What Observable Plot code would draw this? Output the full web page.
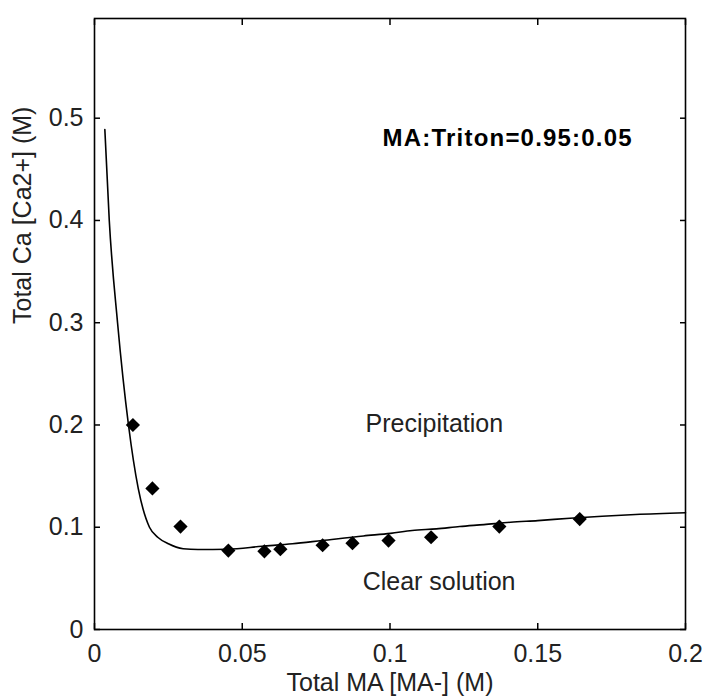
<!DOCTYPE html>
<html>
<head>
<meta charset="utf-8">
<script src="https://cdn.jsdelivr.net/npm/d3@7"></script>
<script src="https://cdn.jsdelivr.net/npm/@observablehq/plot@0.6"></script>
<style>
  html, body { margin: 0; padding: 0; background: #fff; }
  svg { display: block; }
</style>
</head>
<body>
<div id="chart"></div>
<script>
// Model curve
const curveX = [0.0035, 0.005, 0.0078, 0.0115, 0.0148, 0.0186, 0.0215, 0.025, 0.03, 0.035, 0.045, 0.0567, 0.067, 0.077, 0.091, 0.1002, 0.1075, 0.1157, 0.1236, 0.1318, 0.1408, 0.150, 0.1609, 0.1718, 0.1831, 0.2];
const curveY = [0.489, 0.4, 0.3, 0.2, 0.138, 0.1, 0.09, 0.0838, 0.079, 0.0782, 0.0785, 0.0814, 0.0838, 0.087, 0.0915, 0.094, 0.0968, 0.0984, 0.1007, 0.1026, 0.1049, 0.1065, 0.1088, 0.1107, 0.1124, 0.1141];
// Measured points
const pointX = [0.013, 0.0196, 0.0291, 0.0453, 0.0575, 0.0629, 0.0772, 0.0873, 0.0995, 0.1139, 0.137, 0.1642];
const pointY = [0.2, 0.138, 0.1007, 0.0772, 0.0765, 0.0785, 0.0824, 0.0844, 0.087, 0.0902, 0.1007, 0.108];
// Ticks
const xTicks = [0, 0.05, 0.1, 0.15, 0.2];
const xTickLabels = ["0", "0.05", "0.1", "0.15", "0.2"];
const yTicks = [0, 0.1, 0.2, 0.3, 0.4, 0.5];
const yTickLabels = ["0", "0.1", "0.2", "0.3", "0.4", "0.5"];
// Texts
const xLabel = "Total MA [MA-] (M)";
const yLabel = "Total Ca [Ca2+] (M)";
const annotations = [
  {x: 0.0975, y: 0.48, text: "MA:Triton=0.95:0.05", bold: true},
  {x: 0.115, y: 0.201, text: "Precipitation", bold: false},
  {x: 0.1166, y: 0.046, text: "Clear solution", bold: false}
];

const curve = curveX.map((x, i) => ({x, y: curveY[i]}));
const points = pointX.map((x, i) => ({x, y: pointY[i]}));
const font = "'Liberation Sans', Arial, sans-serif";
const xFmt = d => xTickLabels[xTicks.indexOf(d)];
const yFmt = d => yTickLabels[yTicks.indexOf(d)];
const blank = () => "";
const T = 6; // tick length

const chart = Plot.plot({
  width: 705,
  height: 700,
  marginLeft: 94,
  marginRight: 20,
  marginTop: 18,
  marginBottom: 71,
  style: {fontFamily: font, background: "#fff", color: "#000"},
  x: {domain: [0, 0.2]},
  y: {domain: [0, 0.5975]},
  marks: [
    // inward ticks, all four sides (drawn outward then shifted inside)
    Plot.axisX(xTicks, {anchor: "bottom", tickSize: T, dy: -T, tickFormat: blank, stroke: "#000", strokeWidth: 1.5, label: null}),
    Plot.axisX(xTicks, {anchor: "top", tickSize: T, dy: T, tickFormat: blank, stroke: "#000", strokeWidth: 1.5, label: null}),
    Plot.axisY(yTicks, {anchor: "left", tickSize: T, dx: T, tickFormat: blank, stroke: "#000", strokeWidth: 1.5, label: null}),
    Plot.axisY(yTicks, {anchor: "right", tickSize: T, dx: -T, tickFormat: blank, stroke: "#000", strokeWidth: 1.5, label: null}),
    Plot.frame({stroke: "#000", strokeWidth: 1.6}),
    // tick labels
    Plot.axisX(xTicks, {anchor: "bottom", tickSize: 0, tickPadding: 15, tickFormat: xFmt, fontSize: 25, fill: "#222", label: null}),
    Plot.axisY(yTicks, {anchor: "left", tickSize: 0, tickPadding: 11, tickFormat: yFmt, fontSize: 25, fill: "#222", label: null}),
    // axis titles
    Plot.text([xLabel], {frameAnchor: "bottom", dy: 61, fontSize: 25, fill: "#222", text: d => d}),
    Plot.text([yLabel], {frameAnchor: "left", dx: -72, rotate: -90, fontSize: 25, fill: "#222", text: d => d}),
    // model curve
    Plot.line(curve, {x: "x", y: "y", stroke: "#000", strokeWidth: 1.6, curve: "monotone-x"}),
    // data points
    Plot.dot(points, {x: "x", y: "y", symbol: "diamond2", r: 6.4, fill: "#000", stroke: "none"}),
    // annotations
    Plot.text(annotations.filter(d => d.bold), {x: "x", y: "y", text: "text", textAnchor: "start", fontSize: 24, fontWeight: "bold", fill: "#000"}),
    Plot.text(annotations.filter(d => !d.bold), {x: "x", y: "y", text: "text", textAnchor: "middle", fontSize: 25, fill: "#222"})
  ]
});
// widen the bold annotation a little, like the original bitmap font
d3.select(chart).selectAll("text").filter(function() { return this.textContent === annotations[0].text; })
  .style("letter-spacing", "1.2px");
document.getElementById("chart").appendChild(chart);
</script>
</body>
</html>
